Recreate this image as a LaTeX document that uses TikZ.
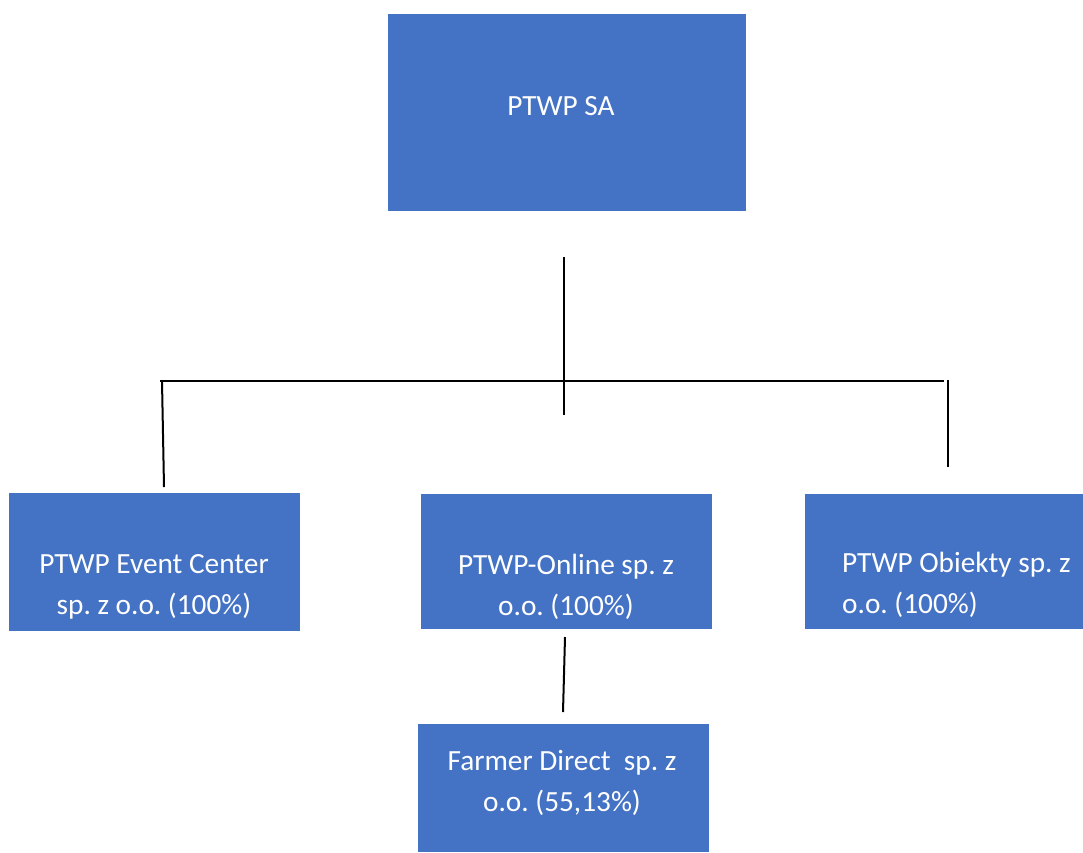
\documentclass[tikz,border=0pt]{standalone}
\usepackage{fontspec}
\setmainfont{Carlito}
\usepackage{tikz}
\frenchspacing

\definecolor{boxblue}{HTML}{4472C4}
\tikzset{
    box/.style={fill=boxblue, draw=none, inner sep=0pt, anchor=north west},
    boxtext/.style={text=white, inner sep=0pt, font=\fontsize{29.3}{41}\selectfont},
    link/.style={draw=black, line width=2pt}
}

\begin{document}
\begin{tikzpicture}[x=1pt, y=-1pt]
    \useasboundingbox (0,0) rectangle (1083,852);
    \node[box, minimum width=358pt, minimum height=197pt] (sa) at (388,14) {};
    \node[box, minimum width=291pt, minimum height=138pt] (event) at (9,493) {};
    \node[box, minimum width=291pt, minimum height=135pt] (online) at (421,494) {};
    \node[box, minimum width=278pt, minimum height=135pt] (obiekty) at (805,494) {};
    \node[box, minimum width=291pt, minimum height=128pt] (farmer) at (418,724) {};
    \node[boxtext, anchor=base] (sa-text) at (561,115) {PTWP SA};
    \node[boxtext, anchor=base, align=center] (event-text) at (154,614) {PTWP Event Center\\sp. z o.o. (100\%)};
    \node[boxtext, anchor=base, align=center] (online-text) at (566,615) {PTWP-Online sp. z\\o.o. (100\%)};
    \node[boxtext, anchor=base west, align=left] (obiekty-text) at (842,613) {PTWP Obiekty sp. z\\o.o. (100\%)};
    \node[boxtext, anchor=base, align=center] (farmer-text) at (562,811) {Farmer Direct\ \ sp. z\\o.o. (55,13\%)};
    \coordinate (stem-top) at (564,257);
    \coordinate (stem-bottom) at (564,415);
    \coordinate (bar-left) at (160,381);
    \coordinate (bar-right) at (944,381);
    \coordinate (event-top) at (162,381);
    \coordinate (event-drop) at (164,487);
    \coordinate (obiekty-top) at (948,380);
    \coordinate (obiekty-drop) at (948,467);
    \coordinate (online-drop) at (565,637);
    \coordinate (farmer-top) at (563,712);
    \draw[link] (stem-top) -- (stem-bottom);
    \draw[link] (bar-left) -- (bar-right);
    \draw[link] (event-top) -- (event-drop);
    \draw[link] (obiekty-top) -- (obiekty-drop);
    \draw[link] (online-drop) -- (farmer-top);
\end{tikzpicture}
\end{document}
